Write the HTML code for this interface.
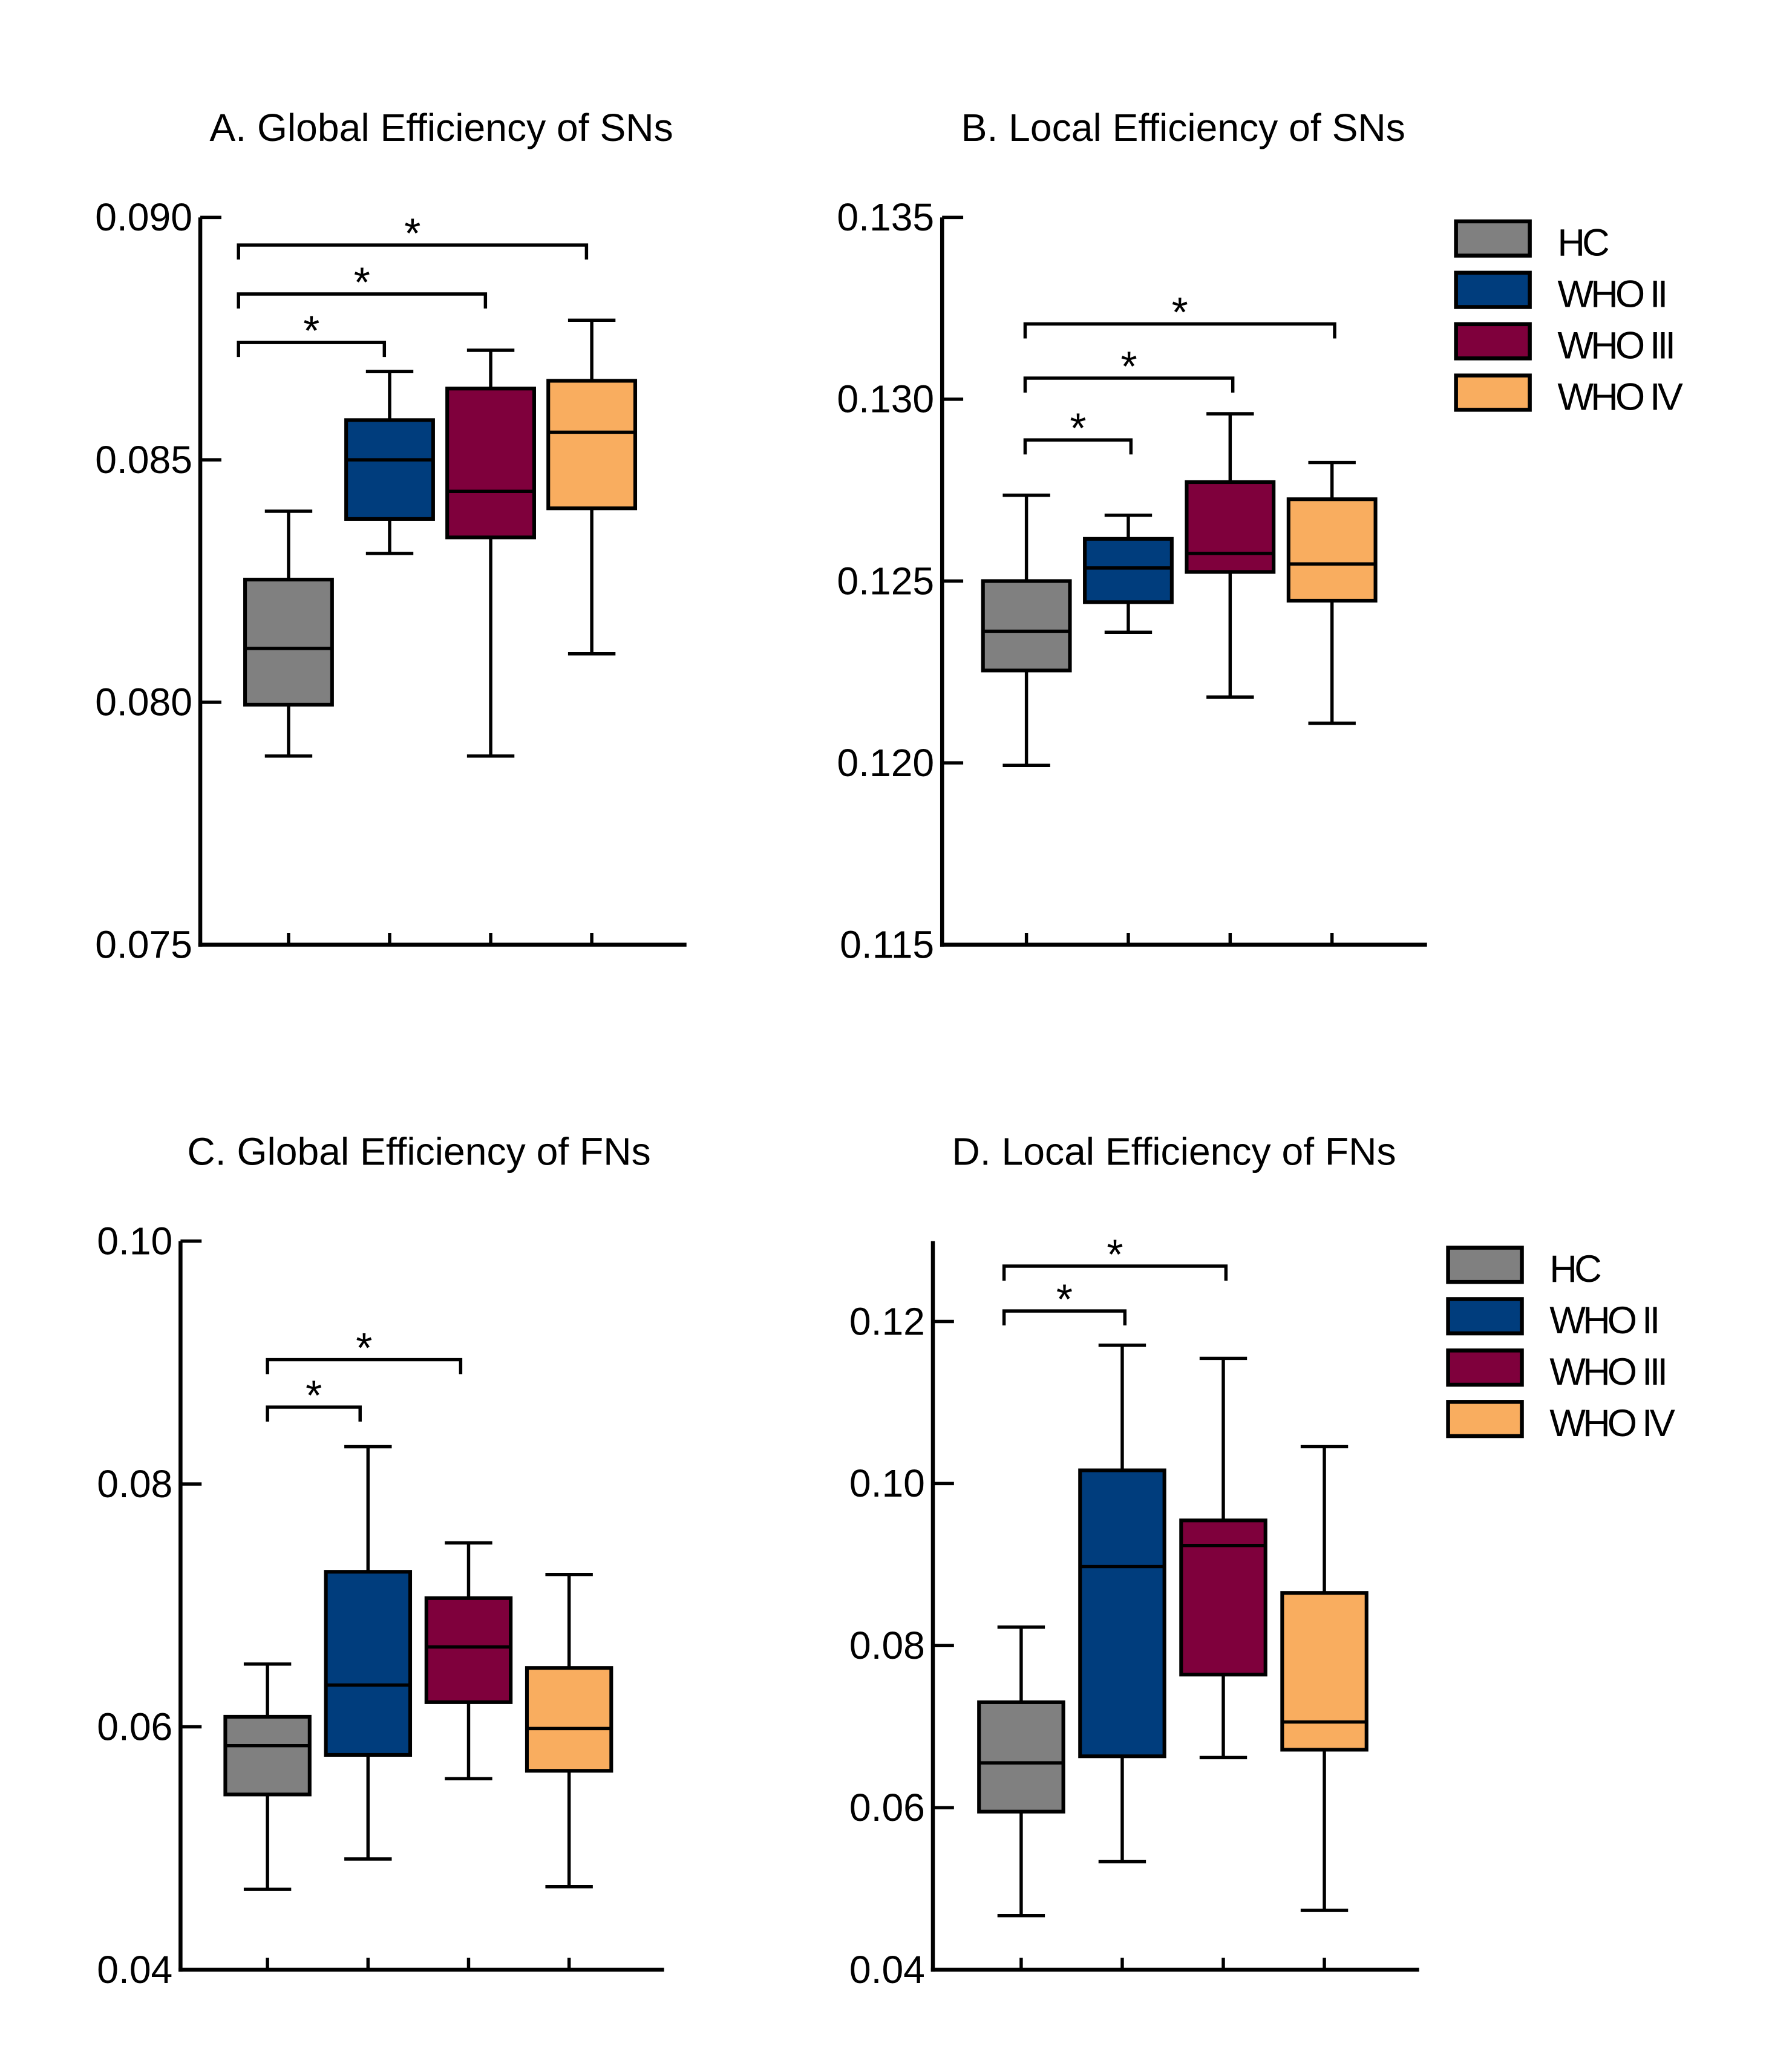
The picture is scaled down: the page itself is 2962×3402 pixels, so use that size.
<!DOCTYPE html>
<html><head><meta charset="utf-8"><style>
html,body{margin:0;padding:0;background:#fff}
svg{display:block}
text{font-family:"Liberation Sans",sans-serif;fill:#000}
</style></head><body>
<svg id="fig" width="2962" height="3402" viewBox="0 0 1360 1562" xmlns="http://www.w3.org/2000/svg"></svg>
<script>
// Group names and colors
const groups = ["HC","WHO II","WHO III","WHO IV"];
const colors = ["#808080","#003d7d","#7f003c","#f9ad5f"];

// Panel A: Global Efficiency of SNs
const aLow = [0.07889,0.08307,0.07889,0.08100];
const aQ1  = [0.07995,0.08378,0.08340,0.08400];
const aMed = [0.08111,0.08500,0.08435,0.08557];
const aQ3  = [0.08253,0.08582,0.08647,0.08663];
const aHigh= [0.08394,0.08682,0.08726,0.08788];
const aTicks = ["0.075","0.080","0.085","0.090"];
const aTickVals = [0.075,0.080,0.085,0.090];
const aSigTo = [1,2,3];
const aSigLevel = [0.08742,0.08842,0.08943];

// Panel B: Local Efficiency of SNs
const bLow = [0.11993,0.12359,0.12181,0.12109];
const bQ1  = [0.12254,0.12442,0.12525,0.12446];
const bMed = [0.12362,0.12536,0.12576,0.12547];
const bQ3  = [0.12500,0.12616,0.12772,0.12725];
const bHigh= [0.12736,0.12681,0.12960,0.12826];
const bTicks = ["0.115","0.120","0.125","0.130","0.135"];
const bTickVals = [0.115,0.120,0.125,0.130,0.135];
const bSigTo = [1,2,3];
const bSigLevel = [0.12888,0.13058,0.13207];

// Panel C: Global Efficiency of FNs
const cLow = [0.04662,0.04912,0.05573,0.04684];
const cQ1  = [0.05443,0.05769,0.06203,0.05638];
const cMed = [0.05845,0.06344,0.06658,0.05986];
const cQ3  = [0.06083,0.07277,0.07060,0.06485];
const cHigh= [0.06517,0.08307,0.07515,0.07255];
const cTicks = ["0.04","0.06","0.08","0.10"];
const cTickVals = [0.04,0.06,0.08,0.10];
const cSigTo = [1,2];
const cSigLevel = [0.08633,0.09024];

// Panel D: Local Efficiency of FNs
const dLow = [0.04667,0.05333,0.06618,0.04732];
const dQ1  = [0.05951,0.06634,0.07642,0.06715];
const dMed = [0.06553,0.08976,0.09236,0.07057];
const dQ3  = [0.07301,0.10163,0.09545,0.08650];
const dHigh= [0.08228,0.11707,0.11545,0.10455];
const dTicks = ["0.04","0.06","0.08","0.10","0.12"];
const dTickVals = [0.04,0.06,0.08,0.10,0.12];
const dSigTo = [1,2];
const dSigLevel = [0.1213,0.12683];

const NS="http://www.w3.org/2000/svg";
const svg=document.getElementById('fig');
function mk(tag,attrs,parent){const e=document.createElementNS(NS,tag);for(const k in attrs)e.setAttribute(k,attrs[k]);(parent||svg).appendChild(e);return e;}

function panel(cfg){
  const g=mk('g',{});
  
  
  const y=v=>cfg.yBottom-(v-cfg.vMin)/(cfg.vMax-cfg.vMin)*(cfg.yBottom-cfg.yAtMax);
  const x=i=>cfg.x0+i*cfg.dx;
  const t=mk('text',{x:cfg.titleX,y:cfg.titleY,'font-size':29.5,'text-anchor':'middle'},g);
  t.textContent=cfg.title;
  
  
  const ya=mk('line',{x1:cfg.ax,y1:cfg.axisTop,x2:cfg.ax,y2:cfg.yBottom+1.5,stroke:'#000','stroke-width':3},g);
  
  
  const xa=mk('line',{x1:cfg.ax-1.5,y1:cfg.yBottom,x2:cfg.axEnd,y2:cfg.yBottom,stroke:'#000','stroke-width':3},g);
  
  
  cfg.tickVals.forEach((v,i)=>{
    const yy=y(v);
    mk('line',{x1:cfg.ax,y1:yy,x2:cfg.ax+16,y2:yy,stroke:'#000','stroke-width':2.5},g);
    const tl=mk('text',{x:cfg.ax-6,y:yy+10,'font-size':29.5,'text-anchor':'end'},g);
    tl.textContent=cfg.ticks[i];
    
    
  });
  for(let i=0;i<4;i++){
    mk('line',{x1:x(i),y1:cfg.yBottom,x2:x(i),y2:cfg.yBottom-9,stroke:'#000','stroke-width':2.5},g);
  }
  const hw=cfg.bw/2;
  for(let i=0;i<4;i++){
    const bg=mk('g',{},g);
    
    
    const cx=x(i);
    mk('line',{x1:cx,y1:y(cfg.low[i]),x2:cx,y2:y(cfg.high[i]),stroke:'#000','stroke-width':2.5},bg);
    mk('line',{x1:cx-18,y1:y(cfg.low[i]),x2:cx+18,y2:y(cfg.low[i]),stroke:'#000','stroke-width':2.5},bg);
    mk('line',{x1:cx-18,y1:y(cfg.high[i]),x2:cx+18,y2:y(cfg.high[i]),stroke:'#000','stroke-width':2.5},bg);
    mk('rect',{x:cx-hw,y:y(cfg.q3[i]),width:cfg.bw,height:y(cfg.q1[i])-y(cfg.q3[i]),fill:colors[i],stroke:'#000','stroke-width':2.8},bg);
    mk('line',{x1:cx-hw,y1:y(cfg.med[i]),x2:cx+hw,y2:y(cfg.med[i]),stroke:'#000','stroke-width':2.5},bg);
  }
  cfg.sigTo.forEach((j,k)=>{
    const sg=mk('g',{},g);
    
    
    const yy=y(cfg.sigLevel[k]);
    const xe=x(j)+cfg.bracketEndOff;
    mk('path',{d:`M${cfg.bracketStart},${yy+11}V${yy}H${xe}V${yy+11}`,fill:'none',stroke:'#000','stroke-width':2.5},sg);
    const st=mk('text',{x:(cfg.bracketStart+xe)/2,y:yy+2,'font-size':32,'text-anchor':'middle'},sg);
    st.textContent='*';
  });
}

panel({name:'panel-a',title:'A. Global Efficiency of SNs',titleX:335,titleY:107,ax:152,axEnd:521,axisTop:165,yBottom:717,yAtMax:165,vMin:0.075,vMax:0.090,x0:219,dx:76.7,bw:66,
  low:aLow,q1:aQ1,med:aMed,q3:aQ3,high:aHigh,ticks:aTicks,tickVals:aTickVals,sigTo:aSigTo,sigLevel:aSigLevel,bracketStart:181,bracketEndOff:-4});
panel({name:'panel-b',title:'B. Local Efficiency of SNs',titleX:898,titleY:107,ax:715,axEnd:1083,axisTop:165,yBottom:717,yAtMax:165,vMin:0.115,vMax:0.135,x0:779,dx:77.3,bw:66,
  low:bLow,q1:bQ1,med:bMed,q3:bQ3,high:bHigh,ticks:bTicks,tickVals:bTickVals,sigTo:bSigTo,sigLevel:bSigLevel,bracketStart:778,bracketEndOff:2});
panel({name:'panel-c',title:'C. Global Efficiency of FNs',titleX:318,titleY:884,ax:137,axEnd:504,axisTop:942,yBottom:1495,yAtMax:942,vMin:0.04,vMax:0.10,x0:203,dx:76.3,bw:64,
  low:cLow,q1:cQ1,med:cMed,q3:cQ3,high:cHigh,ticks:cTicks,tickVals:cTickVals,sigTo:cSigTo,sigLevel:cSigLevel,bracketStart:203,bracketEndOff:-6});
panel({name:'panel-d',title:'D. Local Efficiency of FNs',titleX:891,titleY:884,ax:708,axEnd:1077,axisTop:942,yBottom:1495,yAtMax:1003,vMin:0.04,vMax:0.12,x0:775,dx:76.7,bw:64,
  low:dLow,q1:dQ1,med:dMed,q3:dQ3,high:dHigh,ticks:dTicks,tickVals:dTickVals,sigTo:dSigTo,sigLevel:dSigLevel,bracketStart:762,bracketEndOff:2});

function legend(name,bx,by,tx){
  const g=mk('g',{});
  
  
  groups.forEach((gn,i)=>{
    const yy=by+i*39;
    const e=mk('g',{},g);
    
    
    mk('rect',{x:bx,y:yy,width:56,height:26,fill:colors[i],stroke:'#000','stroke-width':3},e);
    const t=mk('text',{x:tx,y:yy+26,'font-size':29,'letter-spacing':-2.2},e);
    t.textContent=gn;
  });
}
legend('legend-top',1105,168,1182);
legend('legend-bottom',1099,947,1176);
</script>
</body></html>
